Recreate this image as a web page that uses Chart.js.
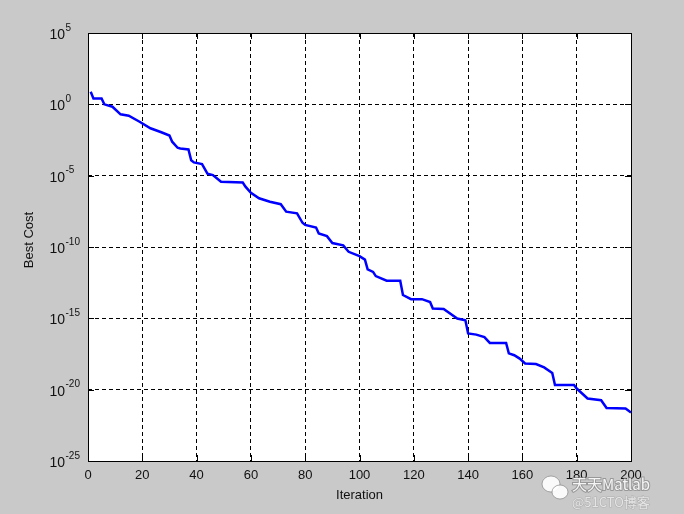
<!DOCTYPE html>
<html>
<head>
<meta charset="utf-8">
<script src="https://cdn.jsdelivr.net/npm/chart.js@4.4.1/dist/chart.umd.min.js"></script>
<style>
  html,body{margin:0;padding:0;background:#c9c9c9;}
  #wrap{width:684px;height:514px;}
</style>
</head>
<body>
<div id="wrap"><canvas id="cv" width="684" height="514"></canvas></div>
<script>
// best cost per iteration (corners of the steps)
var iterations = [1,2,5,6,9,12,15,19,23,27,30,31,33,34,37,38,39,42,44,46,49,57,58,60,63,67,71,73,77,79,80,84,85,88,90,94,96,100,102,103,105,106,110,115,116,119,123,126,127,131,136,139,140,143,146,148,154,155,157,159,161,165,168,171,172,179,180,182,184,189,191,198,200];
var bestCost = [7.6,2.6,2.6,1.0,0.68,0.20,0.16,0.060,0.021,0.011,6.5e-3,2.4e-3,9.1e-4,8.1e-4,6.9e-4,1.2e-4,8.5e-5,6.5e-5,1.4e-5,1.1e-5,3.7e-6,3.3e-6,1.7e-6,6.3e-7,2.6e-7,1.5e-7,1.0e-7,3.0e-8,2.3e-8,5.0e-9,3.5e-9,2.3e-9,8.9e-10,5.8e-10,1.9e-10,1.3e-10,4.6e-11,2.3e-11,1.3e-11,2.7e-12,1.8e-12,9.1e-13,4.3e-13,4.3e-13,4.3e-14,2.2e-14,2.2e-14,1.4e-14,4.9e-15,4.5e-15,9.8e-16,7.4e-16,8.7e-17,7.2e-17,4.8e-17,1.9e-17,1.9e-17,3.5e-18,2.6e-18,1.5e-18,6.9e-19,6.2e-19,3.6e-19,1.5e-19,2.1e-20,2.1e-20,1.2e-20,5.4e-21,2.4e-21,1.8e-21,5.2e-22,4.8e-22,2.5e-22];

var xTicks = [0,20,40,60,80,100,120,140,160,180,200];
var yTickExps = [-25,-20,-15,-10,-5,0,5];

var xTitle = 'Iteration';
var yTitle = 'Best Cost';
var markText = ['天天Matlab','@51CTO博客'];

var FONT = '"Liberation Sans", Arial, sans-serif';

var points = iterations.map(function(it,i){ return {x:it, y:bestCost[i]}; });

// gray figure, white axes, box, inward tick marks, 10^n labels
var matlabLook = {
  id:'matlabLook',
  beforeDraw: function(chart){
    var ctx=chart.ctx, a=chart.chartArea;
    ctx.save();
    ctx.fillStyle='#c9c9c9';
    ctx.fillRect(0,0,chart.width,chart.height);
    ctx.fillStyle='#ffffff';
    ctx.fillRect(a.left,a.top,a.right-a.left,a.bottom-a.top);
    ctx.restore();
  },
  afterDraw: function(chart){
    var ctx=chart.ctx, a=chart.chartArea;
    var xs=chart.scales.x, ys=chart.scales.y;
    ctx.save();
    ctx.strokeStyle='#000';
    ctx.lineWidth=1;
    ctx.strokeRect(a.left+0.5,a.top+0.5,a.right-a.left,a.bottom-a.top);
    // tick marks pointing in
    ctx.beginPath();
    xTicks.forEach(function(t){
      var px=Math.round(xs.getPixelForValue(t))+0.5;
      ctx.moveTo(px,a.bottom); ctx.lineTo(px,a.bottom-6);
      ctx.moveTo(px,a.top); ctx.lineTo(px,a.top+6);
    });
    yTickExps.forEach(function(e){
      var py=Math.round(ys.getPixelForValue(Math.pow(10,e)))+0.5;
      ctx.moveTo(a.left,py); ctx.lineTo(a.left+6,py);
      ctx.moveTo(a.right,py); ctx.lineTo(a.right-6,py);
    });
    ctx.stroke();

    // y labels as 10 with exponent
    ctx.fillStyle='#111';
    yTickExps.forEach(function(e){
      var py=ys.getPixelForValue(Math.pow(10,e));
      ctx.font='14px '+FONT;
      ctx.textAlign='right'; ctx.textBaseline='middle';
      ctx.fillText('10',65,py+2);
      ctx.font='10px '+FONT;
      ctx.textAlign='left';
      ctx.fillText(String(e),65.5,py-5);
    });

    // y title
    ctx.translate(29,240);
    ctx.rotate(-Math.PI/2);
    ctx.font='13px '+FONT;
    ctx.textAlign='center'; ctx.textBaseline='middle';
    ctx.fillText(yTitle,0,0);
    ctx.restore();

    // watermark bottom right
    ctx.save();
    ctx.fillStyle='rgba(255,255,255,0.9)';
    ctx.strokeStyle='rgba(120,120,120,0.6)';
    ctx.beginPath(); ctx.ellipse(551,484,9,8,0,0,Math.PI*2); ctx.fill(); ctx.stroke();
    ctx.beginPath(); ctx.ellipse(560,492,8,7,0,0,Math.PI*2); ctx.fill(); ctx.stroke();
    ctx.font='15px "Noto Sans CJK SC", '+FONT;
    ctx.textAlign='left'; ctx.textBaseline='middle';
    ctx.lineWidth=2;
    ctx.strokeText(markText[0],572,484);
    ctx.fillText(markText[0],572,484);
    ctx.font='13px "Noto Sans CJK SC", '+FONT;
    ctx.fillStyle='rgba(235,235,235,0.9)';
    ctx.lineWidth=1;
    ctx.strokeStyle='rgba(150,150,150,0.5)';
    ctx.strokeText(markText[1],572,502);
    ctx.fillText(markText[1],572,502);
    ctx.restore();
  }
};

new Chart(document.getElementById('cv'),{
  type:'line',
  data:{
    datasets:[{
      data:points,
      borderColor:'#0000ff',
      borderWidth:2.5,
      pointRadius:0,
      tension:0,
      fill:false
    }]
  },
  options:{
    responsive:false,
    animation:false,
    events:[],
    layout:{padding:{left:0,top:33,right:53,bottom:0}},
    plugins:{legend:{display:false},tooltip:{enabled:false}},
    scales:{
      x:{
        type:'linear',
        min:0,max:200,
        afterBuildTicks:function(s){ s.ticks=xTicks.map(function(v){return {value:v};}); },
        afterFit:function(s){ s.height=53; },
        grid:{color:'#000',lineWidth:1,drawTicks:false},
        border:{display:false,dash:[4,3]},
        ticks:{color:'#111',font:{family:FONT,size:13},padding:7,maxRotation:0},
        title:{display:true,text:xTitle,color:'#111',font:{family:FONT,size:13},padding:{top:0,bottom:11}}
      },
      y:{
        type:'logarithmic',
        min:1e-25,max:1e5,
        afterBuildTicks:function(s){ s.ticks=yTickExps.map(function(e){return {value:Math.pow(10,e)};}); },
        afterFit:function(s){ s.width=88; },
        grid:{color:'#000',lineWidth:1,drawTicks:false},
        border:{display:false,dash:[4,3]},
        ticks:{display:false}
      }
    }
  },
  plugins:[matlabLook]
});
</script>
</body>
</html>
